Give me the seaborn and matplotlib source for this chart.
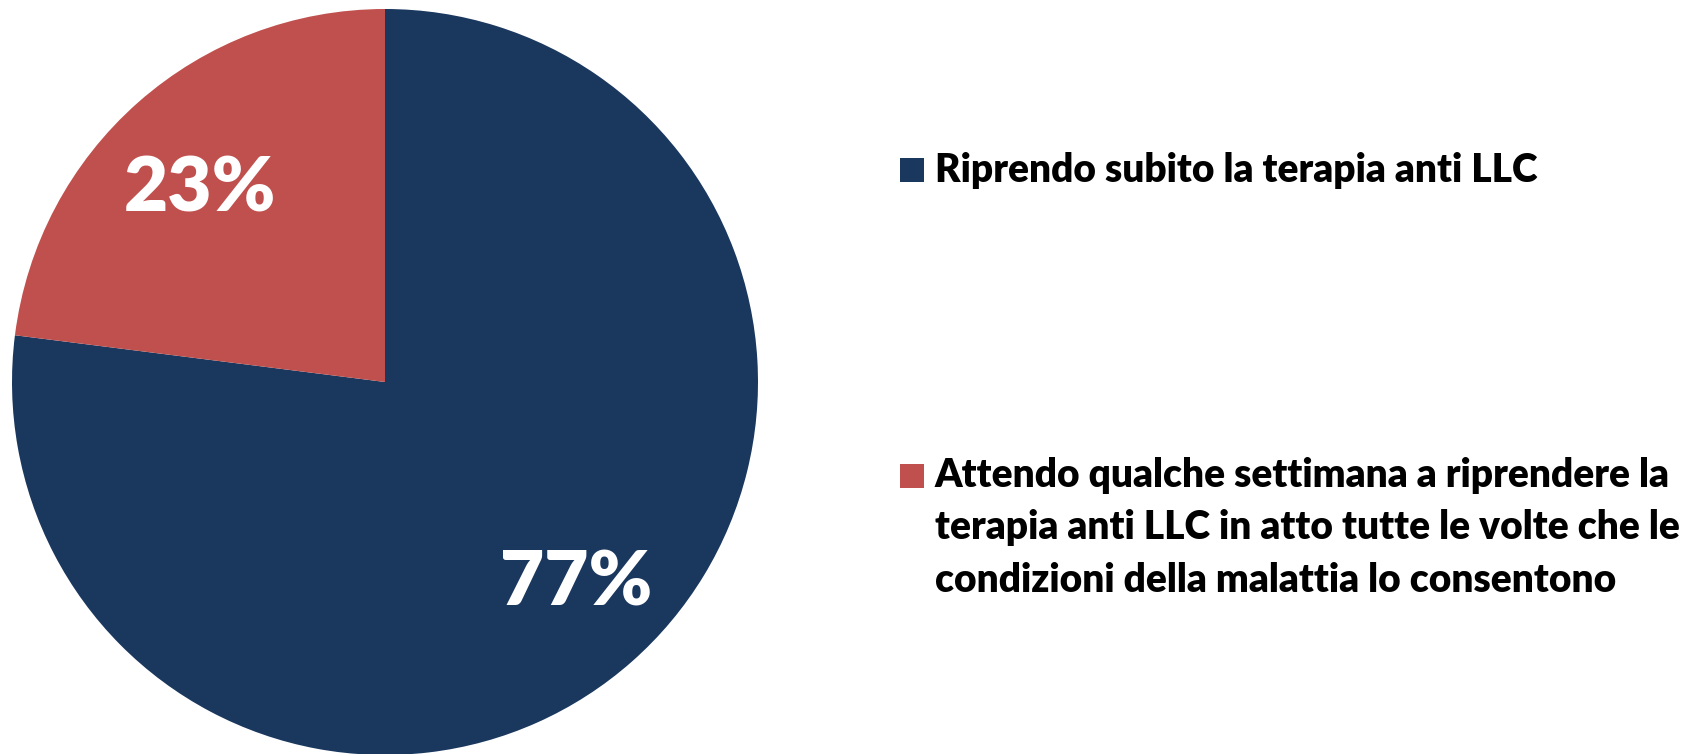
import matplotlib
matplotlib.use("Agg")
import matplotlib.pyplot as plt
from matplotlib.patches import Rectangle
from matplotlib.transforms import offset_copy
import seaborn as sns

# Survey answers and their shares (%)
categories = [
    "Riprendo subito la terapia anti LLC",
    "Attendo qualche settimana a riprendere la\nterapia anti LLC in atto tutte le volte che le\ncondizioni della malattia lo consentono",
]
shares = [77, 23]
colors = ["#1A375E", "#C0504D"]

sns.set_theme(style="white")
plt.rcParams["font.family"] = ["Lato", "DejaVu Sans"]

W, H = 1691, 754
DPI = 100
fig = plt.figure(figsize=(W / DPI, H / DPI), dpi=DPI)
fig.patch.set_facecolor("white")

# Pie axes: centre (385, 382) px, radius 373 px
cx, cy, r = 385, 382, 373
ax = fig.add_axes([(cx - r) / W, (H - cy - r) / H, 2 * r / W, 2 * r / H])
wedges, texts, autotexts = ax.pie(
    shares,
    colors=colors,
    startangle=90,
    counterclock=False,
    autopct=lambda p: f"{p:.0f}%",
    pctdistance=0.72,
    wedgeprops=dict(linewidth=0),
    textprops=dict(color="white", fontsize=55, fontweight="heavy"),
)
ax.set_xlim(-1, 1)
ax.set_ylim(-1, 1)
ax.set_aspect("equal")
ax.axis("off")

# small nudges of the percentage labels (in pixels)
nudges = [(14, 0), (-7, -9)]
for t, (dx, dy) in zip(autotexts, nudges):
    t.set_transform(offset_copy(ax.transData, fig=fig, x=dx * 72 / DPI, y=dy * 72 / DPI, units="points"))

# Legend drawn in pixel coordinates on an overlay axes
lg = fig.add_axes([0, 0, 1, 1])
lg.set_xlim(0, W)
lg.set_ylim(H, 0)
lg.axis("off")

entries = [
    dict(square_top=158, baselines=[182]),
    dict(square_top=464, baselines=[487, 539, 592]),
]
legend_texts = []
for label, color, e in zip(categories, colors, entries):
    lg.add_patch(Rectangle((900, e["square_top"]), 24, 24, facecolor=color, edgecolor="none"))
    for line, base in zip(label.split("\n"), e["baselines"]):
        legend_texts.append(lg.text(935, base, line, fontsize=28.5, fontweight="heavy",
                                    color="black", ha="left", va="baseline"))

# shrink the legend font uniformly so the longest line stays inside the figure
renderer = fig.canvas.get_renderer()
right = max(t.get_window_extent(renderer).x1 for t in legend_texts)
limit = 1682
if right > limit:
    scale = (limit - 935) / (right - 935)
    for t in legend_texts:
        t.set_fontsize(t.get_fontsize() * scale)

fig.savefig("out.png", dpi=DPI, facecolor="white")
